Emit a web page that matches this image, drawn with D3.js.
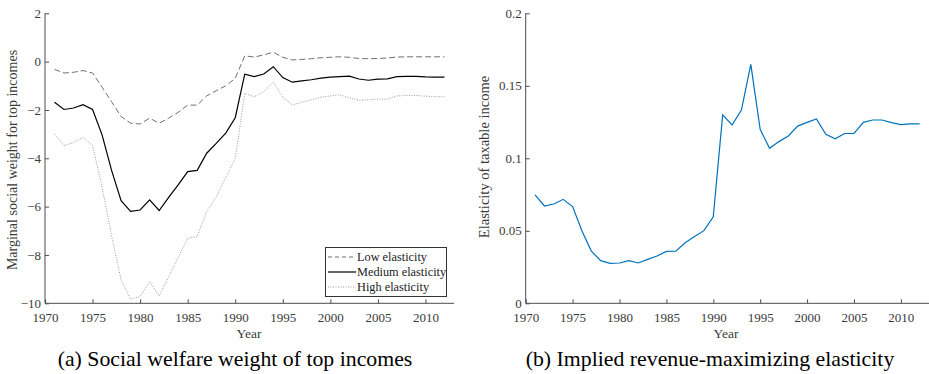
<!DOCTYPE html>
<html><head><meta charset="utf-8">
<script src="https://cdn.jsdelivr.net/npm/d3@7"></script>
<style>body{margin:0;background:#fff}svg{display:block}</style>
</head><body>
<svg id="c" width="929" height="374"></svg>
<script>
const years = d3.range(1971, 2013);
const lowElasticity = [-0.32,-0.47,-0.44,-0.37,-0.47,-1.06,-1.66,-2.27,-2.55,-2.58,-2.34,-2.55,-2.34,-2.1,-1.8,-1.8,-1.42,-1.2,-1.0,-0.69,0.24,0.19,0.28,0.39,0.18,0.07,0.09,0.12,0.16,0.18,0.2,0.18,0.13,0.12,0.13,0.15,0.19,0.2,0.2,0.2,0.2,0.2];
const mediumElasticity = [-1.68,-1.98,-1.92,-1.78,-1.98,-3.03,-4.5,-5.75,-6.2,-6.14,-5.72,-6.16,-5.62,-5.1,-4.55,-4.5,-3.79,-3.38,-2.96,-2.32,-0.52,-0.62,-0.51,-0.21,-0.66,-0.85,-0.8,-0.75,-0.68,-0.64,-0.62,-0.6,-0.72,-0.77,-0.72,-0.71,-0.62,-0.61,-0.61,-0.63,-0.64,-0.64];
const highElasticity = [-2.99,-3.47,-3.35,-3.14,-3.47,-5.2,-7.2,-9.03,-9.83,-9.72,-9.1,-9.7,-8.9,-8.1,-7.31,-7.24,-6.2,-5.6,-4.8,-4.0,-1.31,-1.45,-1.24,-0.85,-1.47,-1.79,-1.68,-1.58,-1.47,-1.42,-1.37,-1.5,-1.6,-1.58,-1.55,-1.55,-1.42,-1.4,-1.4,-1.43,-1.45,-1.45];
const impliedElasticity = [0.0747,0.0671,0.0685,0.0717,0.0667,0.0499,0.036,0.0294,0.0275,0.0278,0.0294,0.0278,0.0303,0.0326,0.0358,0.036,0.0418,0.046,0.0501,0.0597,0.1299,0.123,0.1333,0.1648,0.12,0.1069,0.1115,0.1154,0.1222,0.1248,0.1271,0.1166,0.1134,0.1171,0.1171,0.1248,0.1264,0.1264,0.1246,0.1232,0.1237,0.1237];
const xTicks = [1970,1975,1980,1985,1990,1995,2000,2005,2010];
const yTicksA = [2,0,-2,-4,-6,-8,-10];
const yTicksB = [0,0.05,0.1,0.15,0.2];
const legendLabels = ["Low elasticity","Medium elasticity","High elasticity"];
const captions = ["(a) Social welfare weight of top incomes","(b) Implied revenue-maximizing elasticity"];
const yTitles = ["Marginal social weight for top incomes","Elasticity of taxable income"];

const svg = d3.select("#c");
const FONT = "'Liberation Serif','DejaVu Serif',serif";
const axisColor = "#4d4d4d";

function drawAxes(g, x, y, yTicks, yFmt) {
  const xa = g.append("g").attr("transform", `translate(0,${y.range()[0]})`)
    .call(d3.axisBottom(x).tickValues(xTicks).tickFormat(d3.format("d")).tickSizeInner(-4).tickSizeOuter(0).tickPadding(9));
  const ya = g.append("g").attr("transform", `translate(${x.range()[0]},0)`)
    .call(d3.axisLeft(y).tickValues(yTicks).tickFormat(yFmt).tickSizeInner(-4).tickSizeOuter(0).tickPadding(4));
  [xa, ya].forEach(a => {
    a.select(".domain").attr("stroke", axisColor).attr("stroke-width", 1);
    a.selectAll(".tick line").attr("stroke", axisColor);
    a.selectAll("text").attr("font-family", FONT).attr("font-size", 13).attr("fill", "#3a3a3a");
  });
  xa.select(".domain").attr("d", `M${x.range()[0]},0H${x.range()[1]}`);
  ya.select(".domain").attr("d", `M0,${y.range()[0]}V${y.range()[1]}`);
}

// Panel A
const xA = d3.scaleLinear().domain([1970, 2013]).range([45, 454]);
const yA = d3.scaleLinear().domain([-10, 2]).range([303.3, 13.3]);
const gA = svg.append("g");
drawAxes(gA, xA, yA, yTicksA, d3.format("d"));
const lineA = arr => d3.line().x((d, i) => xA(years[i])).y(d => yA(d))(arr);
const styles = [
  {data: lowElasticity, stroke: "#707070", dash: "6,3", w: 1},
  {data: mediumElasticity, stroke: "#000", dash: null, w: 1.2},
  {data: highElasticity, stroke: "#9a9a9a", dash: "1,1.5", w: 1}
];
styles.forEach(s => {
  gA.append("path").attr("d", lineA(s.data)).attr("fill", "none")
    .attr("stroke", s.stroke).attr("stroke-width", s.w)
    .attr("stroke-dasharray", s.dash);
});
// legend
const lg = gA.append("g");
lg.append("rect").attr("x", 325.5).attr("y", 247.5).attr("width", 121).attr("height", 49)
  .attr("fill", "#fff").attr("stroke", "#333").attr("stroke-width", 1);
legendLabels.forEach((t, i) => {
  const yy = 261 + i * 15;
  lg.append("line").attr("x1", 328).attr("x2", 356).attr("y1", yy - 4).attr("y2", yy - 4)
    .attr("stroke", styles[i].stroke).attr("stroke-width", styles[i].w)
    .attr("stroke-dasharray", i === 0 ? "4,3" : styles[i].dash);
  lg.append("text").attr("x", 357).attr("y", yy).text(t)
    .attr("font-family", FONT).attr("font-size", 12.3).attr("fill", "#222");
});
svg.append("text").attr("transform", `translate(17,160) rotate(-90)`).attr("text-anchor", "middle")
  .attr("font-family", FONT).attr("font-size", 14).attr("fill", "#3a3a3a").text(yTitles[0]);
svg.append("text").attr("x", 249).attr("y", 338).attr("text-anchor", "middle")
  .attr("font-family", FONT).attr("font-size", 13.5).attr("fill", "#3a3a3a").text("Year");
svg.append("text").attr("x", 235).attr("y", 366).attr("text-anchor", "middle")
  .attr("font-family", FONT).attr("font-size", 21.8).attr("fill", "#000").text(captions[0]);

// Panel B
const xB = d3.scaleLinear().domain([1970, 2013]).range([525.7, 929]);
const yB = d3.scaleLinear().domain([0, 0.2]).range([303.3, 13.3]);
const gB = svg.append("g");
drawAxes(gB, xB, yB, yTicksB, d => d === 0 ? "0" : String(d));
gB.append("path").attr("d", d3.line().x((d, i) => xB(years[i])).y(d => yB(d))(impliedElasticity))
  .attr("fill", "none").attr("stroke", "#0072BD").attr("stroke-width", 1.2);
svg.append("text").attr("transform", `translate(489,157) rotate(-90)`).attr("text-anchor", "middle")
  .attr("font-family", FONT).attr("font-size", 14.5).attr("fill", "#3a3a3a").text(yTitles[1]);
svg.append("text").attr("x", 726).attr("y", 338).attr("text-anchor", "middle")
  .attr("font-family", FONT).attr("font-size", 13.5).attr("fill", "#3a3a3a").text("Year");
svg.append("text").attr("x", 710).attr("y", 366).attr("text-anchor", "middle")
  .attr("font-family", FONT).attr("font-size", 21.8).attr("fill", "#000").text(captions[1]);
</script>
</body></html>
